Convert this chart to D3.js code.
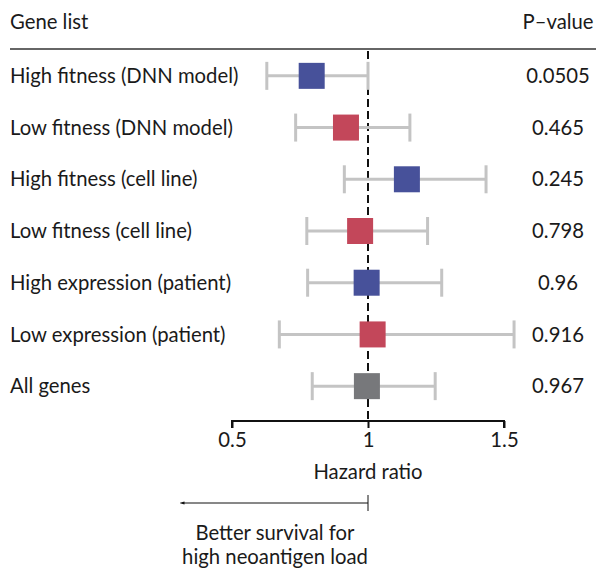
<!DOCTYPE html>
<html>
<head>
<meta charset="utf-8">
<script src="https://cdn.jsdelivr.net/npm/d3@7"></script>
<style>
  body { margin: 0; background: #fff; }
  svg text { font-family: "Lato", "Noto Sans", sans-serif; fill: #1a1a1a; }
</style>
</head>
<body>
<div id="chart"></div>
<script>
const geneLists = [
    'High fitness (DNN model)',
    'Low fitness (DNN model)',
    'High fitness (cell line)',
    'Low fitness (cell line)',
    'High expression (patient)',
    'Low expression (patient)',
    'All genes'
];
const hazardRatios = [0.793, 0.919, 1.143, 0.971, 0.995, 1.017, 0.996];
const ciLower = [0.628, 0.734, 0.913, 0.775, 0.778, 0.674, 0.795];
const ciUpper = [1.0, 1.154, 1.434, 1.219, 1.271, 1.537, 1.247];
const pValues = ['0.0505', '0.465', '0.245', '0.798', '0.96', '0.916', '0.967'];
const groups = ['high', 'low', 'high', 'low', 'high', 'low', 'all'];
const xTicks = [0.5, 1, 1.5];

const width = 596;
const height = 569;
const fontSize = 20.3;
const boxSize = 26;

const colors = { high: '#47519a', low: '#c3475a', all: '#77787b' };

const svg = d3.select('#chart')
    .append('svg')
    .attr('width', width)
    .attr('height', height);

const xScale = d3.scaleLinear()
    .domain([0.5, 1.5])
    .range([232, 504]);

const yScale = d3.scaleBand()
    .domain(geneLists)
    .range([50, 412])
    .paddingInner(0)
    .paddingOuter(0);

const rowY = d => yScale(d) + yScale.bandwidth() / 2;

// header
svg.append('text')
    .attr('x', 10)
    .attr('y', 29)
    .style('font-size', fontSize + 'px')
    .text('Gene list');

svg.append('text')
    .attr('x', 558)
    .attr('y', 29)
    .attr('text-anchor', 'middle')
    .style('font-size', fontSize + 'px')
    .text('P\u2013value');

svg.append('line')
    .attr('x1', 10).attr('x2', 596)
    .attr('y1', 49).attr('y2', 49)
    .attr('stroke', '#333')
    .attr('stroke-width', 1.5);

// reference line at HR = 1
svg.append('line')
    .attr('x1', xScale(1)).attr('x2', xScale(1))
    .attr('y1', 51).attr('y2', 421)
    .attr('stroke', '#111')
    .attr('stroke-width', 2)
    .attr('stroke-dasharray', '8,4');

const rows = svg.selectAll('g.row')
    .data(geneLists)
    .enter()
    .append('g')
    .attr('class', 'row')
    .attr('transform', d => 'translate(0,' + rowY(d) + ')');

// whiskers
rows.append('line')
    .attr('x1', (d, i) => xScale(ciLower[i]))
    .attr('x2', (d, i) => xScale(ciUpper[i]))
    .attr('stroke', '#c4c4c4')
    .attr('stroke-width', 3);

rows.append('line')
    .attr('x1', (d, i) => xScale(ciLower[i]))
    .attr('x2', (d, i) => xScale(ciLower[i]))
    .attr('y1', -14).attr('y2', 14)
    .attr('stroke', '#c4c4c4')
    .attr('stroke-width', 3);

rows.append('line')
    .attr('x1', (d, i) => xScale(ciUpper[i]))
    .attr('x2', (d, i) => xScale(ciUpper[i]))
    .attr('y1', -14).attr('y2', 14)
    .attr('stroke', '#c4c4c4')
    .attr('stroke-width', 3);

// boxes
rows.append('rect')
    .attr('x', (d, i) => xScale(hazardRatios[i]) - boxSize / 2)
    .attr('y', -boxSize / 2)
    .attr('width', boxSize)
    .attr('height', boxSize)
    .attr('fill', (d, i) => colors[groups[i]]);

// labels
rows.append('text')
    .attr('x', 10)
    .attr('dy', '0.35em')
    .style('font-size', fontSize + 'px')
    .text(d => d);

rows.append('text')
    .attr('x', 558)
    .attr('dy', '0.35em')
    .attr('text-anchor', 'middle')
    .style('font-size', fontSize + 'px')
    .text((d, i) => pValues[i]);

// x axis
const xAxis = d3.axisBottom(xScale)
    .tickValues(xTicks)
    .tickFormat(d3.format('~g'))
    .tickSize(7)
    .tickPadding(5);

const axisG = svg.append('g')
    .attr('transform', 'translate(0,421)')
    .call(xAxis);

axisG.select('.domain')
    .attr('d', 'M' + xScale(0.5) + ',7V0H' + xScale(1.5) + 'V7')
    .attr('stroke', '#111')
    .attr('stroke-width', 2);
axisG.selectAll('.tick line')
    .attr('stroke', '#111')
    .attr('stroke-width', 2);
axisG.selectAll('.tick text')
    .style('font-size', fontSize + 'px')
    .style('font-family', '"Lato", "Noto Sans", sans-serif')
    .attr('fill', '#1a1a1a');

svg.append('text')
    .attr('x', xScale(1))
    .attr('y', 479)
    .attr('text-anchor', 'middle')
    .style('font-size', fontSize + 'px')
    .text('Hazard ratio');

// arrow
svg.append('defs').append('marker')
    .attr('id', 'arrow')
    .attr('viewBox', '0 0 10 10')
    .attr('refX', 1).attr('refY', 5)
    .attr('markerWidth', 5).attr('markerHeight', 5)
    .attr('orient', 'auto-start-reverse')
    .append('path')
    .attr('d', 'M0,2 L10,5 L0,8 Z')
    .attr('fill', '#111');

svg.append('line')
    .attr('x1', xScale(1)).attr('x2', 184)
    .attr('y1', 503).attr('y2', 503)
    .attr('stroke', '#111')
    .attr('stroke-width', 1)
    .attr('marker-end', 'url(#arrow)');

svg.append('line')
    .attr('x1', xScale(1)).attr('x2', xScale(1))
    .attr('y1', 495).attr('y2', 511)
    .attr('stroke', '#111')
    .attr('stroke-width', 1);

svg.append('text')
    .attr('x', 275)
    .attr('y', 540)
    .attr('text-anchor', 'middle')
    .style('font-size', fontSize + 'px')
    .text('Better survival for');

svg.append('text')
    .attr('x', 275)
    .attr('y', 564)
    .attr('text-anchor', 'middle')
    .style('font-size', fontSize + 'px')
    .text('high neoantigen load');
</script>
</body>
</html>
